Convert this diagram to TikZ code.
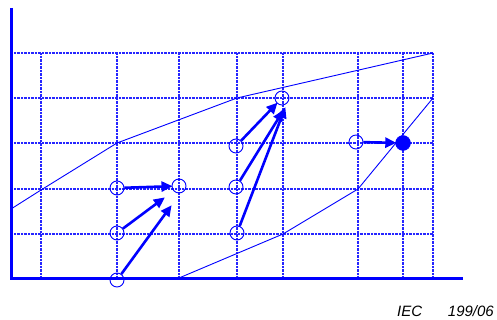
\documentclass[tikz,border=0pt]{standalone}
\usepackage{fontspec}
\setmainfont{Liberation Sans}
\usetikzlibrary{arrows.meta}
\begin{document}
\begin{tikzpicture}[x=1pt,y=-1pt,
  gridline/.style={blue!85, line width=1.2pt, dash pattern=on 1pt off 0.4pt},
  axisline/.style={blue, line width=3pt},
  curveline/.style={blue, line width=0.9pt},
  opencirc/.style={circle, draw=blue, line width=0.9pt, minimum size=14pt, inner sep=0pt},
  fullcirc/.style={circle, fill=blue, draw=blue, minimum size=15pt, inner sep=0pt},
  movearrow/.style={blue, line width=2.6pt, -{Triangle[length=11pt,width=10pt]}, shorten >=-1pt},
  iectext/.style={font=\itshape\fontsize{15}{15}\selectfont, inner sep=0pt}
]
\useasboundingbox (0,0) rectangle (497,320);
% grid
\foreach \y in {53,98,143,189,234} \draw[gridline] (11,\y) -- (433,\y);
\foreach \x in {41,117,179,237,283,358,403,433} \draw[gridline] (\x,53) -- (\x,278);
% curves
\draw[curveline] (11,209) -- (41,190) -- (117,143) -- (237,98) -- (433,53);
\draw[curveline] (179,278) -- (283,234) -- (358,189) -- (433,98);
% axes
\draw[axisline] (11,8) -- (11,278) -- (463,278);
% circles
\node[opencirc] (c1) at (117,188) {};
\node[opencirc] (c2) at (117,233) {};
\node[opencirc] (c3) at (117,280) {};
\node[opencirc] (c4) at (179,186) {};
\node[opencirc] (c5) at (236,146) {};
\node[opencirc] (c6) at (236,187) {};
\node[opencirc] (c7) at (237,233) {};
\node[opencirc] (c8) at (282,98) {};
\node[opencirc] (c9) at (356,142) {};
\node[fullcirc] (f) at (403,143) {};
\coordinate (t2) at (164,198);
\coordinate (t3) at (171,206);
\coordinate (t5) at (283,111);
\coordinate (t6) at (285,108);
% arrows
\draw[movearrow] (c1) -- (c4);
\draw[movearrow] (c2) -- (t2);
\draw[movearrow] (c3) -- (t3);
\draw[movearrow] (c5) -- (c8);
\draw[movearrow] (c6) -- (t5);
\draw[movearrow] (c7) -- (t6);
\draw[movearrow] (c9) -- (f);
% label
\node[iectext, anchor=base west] (iec) at (397,316) {IEC};
\node[iectext, anchor=base east] (num) at (494,316) {199/06};
\end{tikzpicture}
\end{document}
